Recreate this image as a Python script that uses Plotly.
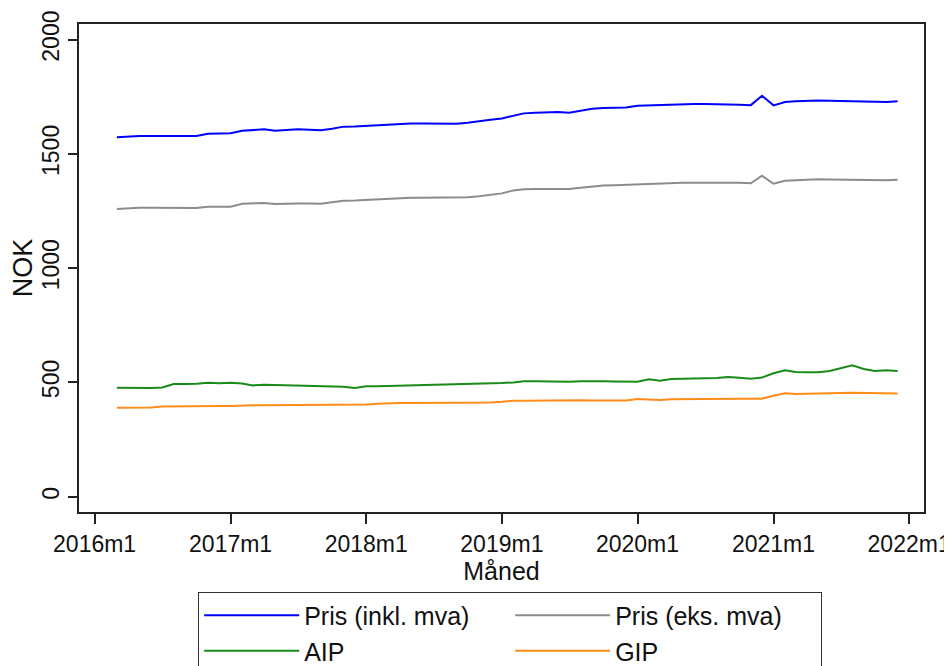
import pandas as pd
import plotly.graph_objects as go

months = pd.date_range("2016-03-01", "2021-12-01", freq="MS")

pris_inkl = [
    1573, 1576, 1578, 1578, 1578, 1577, 1577, 1578, 1588, 1590,
    1590, 1601, 1603, 1607, 1601, 1605, 1607, 1605, 1603, 1610, 1619, 1620,
    1623, 1626, 1629, 1632, 1633, 1633, 1633, 1632, 1632, 1636, 1641, 1649,
    1655, 1668, 1677, 1680, 1682, 1683, 1680, 1688, 1697, 1700, 1702, 1703,
    1710, 1712, 1714, 1715, 1717, 1718, 1718, 1718, 1716, 1715, 1713, 1754,
    1712, 1727, 1730, 1732, 1733, 1732, 1731, 1730, 1730, 1729, 1727, 1730,
]
pris_eks = [
    1259, 1262, 1264, 1264, 1264, 1263, 1263, 1263, 1268, 1269,
    1269, 1282, 1283, 1285, 1280, 1283, 1283, 1283, 1282, 1288, 1295, 1296,
    1299, 1302, 1305, 1307, 1308, 1308, 1308, 1307, 1307, 1310, 1314, 1321,
    1327, 1340, 1345, 1346, 1347, 1347, 1346, 1352, 1358, 1361, 1362, 1364,
    1368, 1369, 1371, 1372, 1373, 1374, 1375, 1375, 1374, 1373, 1371, 1404,
    1369, 1382, 1385, 1388, 1389, 1388, 1387, 1386, 1385, 1385, 1384, 1387,
]
aip = [
    477, 476, 474, 475, 478, 493, 493, 494, 499, 496,
    498, 495, 487, 490, 489, 488, 487, 486, 485, 483, 481, 476,
    483, 483, 484, 485, 486, 487, 488, 489, 490, 491, 493, 495,
    497, 500, 505, 505, 504, 504, 503, 505, 506, 505, 504, 503,
    503, 514, 507, 515, 517, 518, 518, 519, 524, 520, 516, 521,
    540, 553, 545, 544, 544, 550, 563, 575, 559, 550, 553, 550,
]
gip = [
    389, 389, 389, 390, 395, 396, 396, 396, 396, 397,
    397, 400, 400, 400, 400, 400, 400, 400, 400, 400, 400, 400,
    403, 407, 409, 410, 410, 410, 410, 410, 411, 411, 412, 412,
    415, 420, 420, 421, 421, 422, 422, 422, 421, 421, 420, 421,
    427, 425, 423, 426, 427, 427, 428, 428, 428, 429, 429, 429,
    442, 452, 449, 451, 452, 453, 454, 455, 454, 453, 452, 451,
]

series_names = ["Pris (inkl. mva)", "Pris (eks. mva)", "AIP", "GIP"]
series_colors = ["#0000ff", "#8c8c8c", "#1a8a1a", "#ff8c1a"]
series_values = [pris_inkl, pris_eks, aip, gip]

x_tick_dates = ["2016-01-01", "2017-01-01", "2018-01-01", "2019-01-01",
                "2020-01-01", "2021-01-01", "2022-01-01"]
x_tick_labels = ["2016m1", "2017m1", "2018m1", "2019m1", "2020m1", "2021m1", "2022m1"]
y_ticks = [0, 500, 1000, 1500, 2000]

FONT = "Liberation Sans, Arial, sans-serif"

fig = go.Figure()
for name, color, vals in zip(series_names, series_colors, series_values):
    fig.add_trace(go.Scatter(x=months, y=vals, mode="lines", name=name,
                             line=dict(color=color, width=2)))

fig.update_layout(
    width=944, height=658,
    paper_bgcolor="white", plot_bgcolor="white",
    margin=dict(l=71, r=28, t=16, b=154, autoexpand=False),
    font=dict(family=FONT, size=23, color="#111"),
    showlegend=True,
    legend=dict(
        orientation="h", x=0.141, y=-0.163, xanchor="left", yanchor="top",
        bordercolor="#333", borderwidth=1, bgcolor="white",
        font=dict(size=25, family=FONT, color="#111"),
        itemwidth=95, entrywidth=201, entrywidthmode="pixels",
        traceorder="normal",
    ),
)
fig.update_xaxes(
    type="date", range=["2015-11-20", "2022-02-10"],
    tickvals=x_tick_dates, ticktext=x_tick_labels,
    ticks="outside", ticklen=10, tickwidth=1.5, tickcolor="#222",
    showline=True, linecolor="#222", linewidth=2, mirror=True,
    showgrid=False, zeroline=False,
    title=dict(text="Måned", font=dict(size=25), standoff=0),
    tickfont=dict(size=23),
)
fig.update_yaxes(
    range=[-67, 2068], tickvals=y_ticks,
    ticks="outside", ticklen=9, tickwidth=1.5, tickcolor="#222",
    showline=True, linecolor="#222", linewidth=2, mirror=True,
    showgrid=False, zeroline=False, tickangle=-90,
    title=dict(text="NOK", font=dict(size=27), standoff=0),
    tickfont=dict(size=23),
)

fig.write_html("out.html")
